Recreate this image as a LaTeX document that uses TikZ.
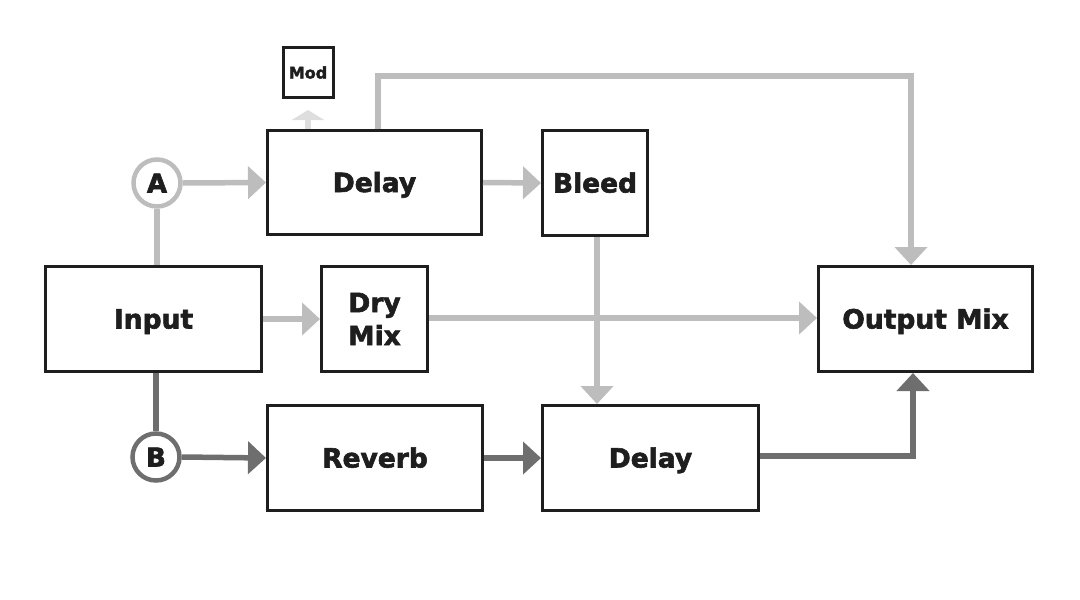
\documentclass[tikz,border=0pt]{standalone}
\usepackage{fontspec}
\setmainfont{DejaVu Sans}[BoldFeatures={FakeBold=2.2}]
\usetikzlibrary{arrows.meta,calc}
\definecolor{lg}{HTML}{BDBDBD}
\definecolor{dg}{HTML}{6E6E6E}
\definecolor{vlg}{HTML}{DEDEDE}
\definecolor{ink}{HTML}{1E1E1E}
\tikzset{
  blk/.style={draw=ink,line width=3pt,fill=white,font=\fontsize{26.5}{33}\selectfont\bfseries,text=ink,align=center,inner sep=0pt},
  one/.style={text height=19pt,text depth=0pt},
  lconn/.style={draw=lg,line width=5.5pt},
  dconn/.style={draw=dg,line width=5.5pt},
  tip/.style={-{Triangle[width=32pt,length=18pt]}},
  circ/.style={circle,line width=4.5pt,fill=white,minimum size=47pt,inner sep=0pt,font=\fontsize{26}{30}\selectfont\bfseries,text=ink,text height=19pt,text depth=0pt}
}
\begin{document}
\begin{tikzpicture}[x=1pt,y=-1pt]
\useasboundingbox (0,0) rectangle (1080,600);
% nodes
\node[blk,minimum width=50pt,minimum height=50pt,font=\fontsize{16}{20}\selectfont\bfseries,text height=12pt,text depth=0pt] (mod) at (308,72.5) {Mod};
\node[blk,one,minimum width=214pt,minimum height=104pt] (delay1) at (374.5,182.5) {Delay};
\node[blk,one,minimum width=105pt,minimum height=105pt] (bleed) at (595,183) {Bleed};
\node[blk,one,minimum width=216pt,minimum height=105pt] (input) at (153.5,319) {Input};
\node[blk,minimum width=106pt,minimum height=105pt] (dry) at (374.5,319) {Dry\\Mix};
\node[blk,one,minimum width=214pt,minimum height=105pt] (out) at (925.5,319) {Output Mix};
\node[blk,one,minimum width=215pt,minimum height=105pt] (reverb) at (375,458) {Reverb};
\node[blk,one,minimum width=216pt,minimum height=105pt] (delay2) at (650.5,458) {Delay};
\node[circ,draw=lg] (A) at (157,183) {A};
\node[circ,draw=dg] (B) at (156,457) {B};
\coordinate (c1) at (911,76);
% connectors
\draw[draw=vlg,line width=5.5pt,-{Triangle[width=32pt,length=10pt,fill=vlg]},shorten >=11pt] (mod.south |- delay1.north) -- (mod.south);
\draw[lconn] (A |- input.north) -- (A.south);
\draw[lconn,tip] (A.east) -- (delay1.west);
\draw[lconn,tip] (delay1.east) -- (bleed.west);
\draw[lconn,tip] ([xshift=3.5pt]delay1.north) |- (c1) -- (c1 |- out.north);
\draw[lconn,tip] ([xshift=2pt]bleed.south) -- ([xshift=2pt]bleed.south |- delay2.north);
\draw[lconn,tip] (input.east) -- (dry.west);
\draw[lconn,tip] ([yshift=1pt]dry.east) -- ([yshift=1pt]out.west);
\draw[dconn] (B |- input.south) -- (B.north);
\draw[dconn,tip] (B.east) -- (reverb.west);
\draw[dconn,tip] (reverb.east) -- (delay2.west);
\draw[dconn,tip] ([yshift=2pt]delay2.east) -| ([xshift=-12.5pt]out.south);
\end{tikzpicture}
\end{document}
